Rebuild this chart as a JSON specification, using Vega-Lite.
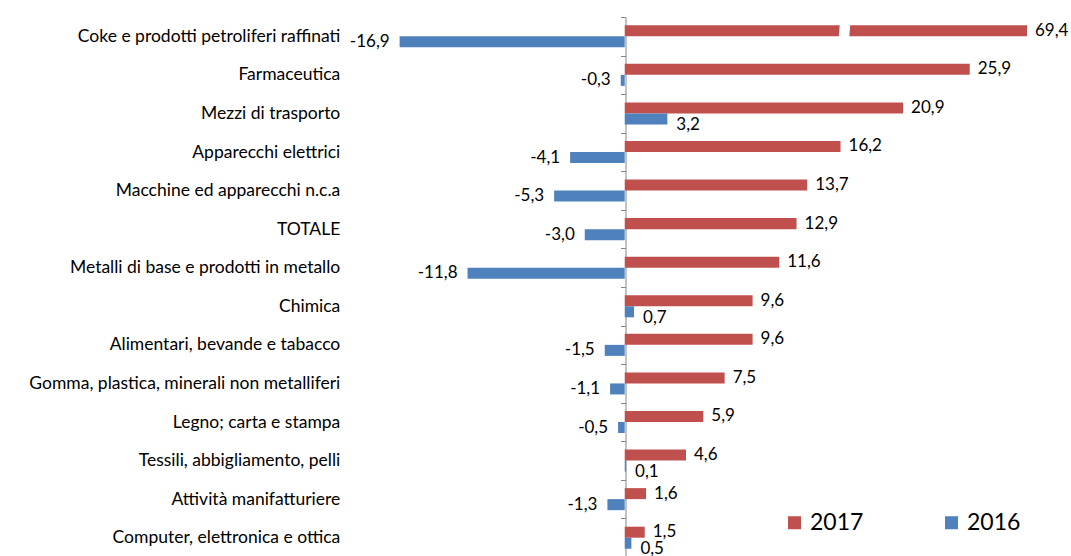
{
  "$schema": "https://vega.github.io/schema/vega-lite/v6.json",
  "width": 682,
  "height": 540,
  "autosize": {"type": "none"},
  "padding": {"left": 345, "top": 17, "right": 44, "bottom": 0},
  "config": {
    "view": {"stroke": null},
    "font": "Lato",
    "locale": {"number": {"decimal": ",", "thousands": ".", "grouping": [3], "currency": ["", " €"], "minus": "-"}}
  },
  "datasets": {
    "dati": [
      {"settore": "Coke e  prodotti petroliferi raffinati", "anno": "2017", "valore": 69.4},
      {"settore": "Coke e  prodotti petroliferi raffinati", "anno": "2016", "valore": -16.9},
      {"settore": "Farmaceutica", "anno": "2017", "valore": 25.9},
      {"settore": "Farmaceutica", "anno": "2016", "valore": -0.3},
      {"settore": "Mezzi di trasporto", "anno": "2017", "valore": 20.9},
      {"settore": "Mezzi di trasporto", "anno": "2016", "valore": 3.2},
      {"settore": "Apparecchi elettrici", "anno": "2017", "valore": 16.2},
      {"settore": "Apparecchi elettrici", "anno": "2016", "valore": -4.1},
      {"settore": "Macchine ed apparecchi  n.c.a", "anno": "2017", "valore": 13.7},
      {"settore": "Macchine ed apparecchi  n.c.a", "anno": "2016", "valore": -5.3},
      {"settore": "TOTALE", "anno": "2017", "valore": 12.9},
      {"settore": "TOTALE", "anno": "2016", "valore": -3.0},
      {"settore": "Metalli di base e prodotti in metallo", "anno": "2017", "valore": 11.6},
      {"settore": "Metalli di base e prodotti in metallo", "anno": "2016", "valore": -11.8},
      {"settore": "Chimica", "anno": "2017", "valore": 9.6},
      {"settore": "Chimica", "anno": "2016", "valore": 0.7},
      {"settore": "Alimentari, bevande e tabacco", "anno": "2017", "valore": 9.6},
      {"settore": "Alimentari, bevande e tabacco", "anno": "2016", "valore": -1.5},
      {"settore": "Gomma,  plastica,  minerali non metalliferi", "anno": "2017", "valore": 7.5},
      {"settore": "Gomma,  plastica,  minerali non metalliferi", "anno": "2016", "valore": -1.1},
      {"settore": "Legno; carta e stampa", "anno": "2017", "valore": 5.9},
      {"settore": "Legno; carta e stampa", "anno": "2016", "valore": -0.5},
      {"settore": "Tessili, abbigliamento, pelli", "anno": "2017", "valore": 4.6},
      {"settore": "Tessili, abbigliamento, pelli", "anno": "2016", "valore": 0.1},
      {"settore": "Attività manifatturiere", "anno": "2017", "valore": 1.6},
      {"settore": "Attività manifatturiere", "anno": "2016", "valore": -1.3},
      {"settore": "Computer,  elettronica e ottica", "anno": "2017", "valore": 1.5},
      {"settore": "Computer,  elettronica e ottica", "anno": "2016", "valore": 0.5}
    ],
    "interruzione": [
      {"settore": "Coke e  prodotti petroliferi raffinati", "anno": "2017", "valore": 16.5}
    ]
  },
  "data": {"name": "dati"},
  "encoding": {
    "y": {
      "field": "settore",
      "type": "nominal",
      "sort": null,
      "scale": {"paddingInner": 0, "paddingOuter": 0},
      "axis": {
        "title": null,
        "offset": -280.5,
        "tickBand": "extent",
        "tickSize": 5,
        "domainColor": "#868686",
        "tickColor": "#868686",
        "labelPadding": 280.7,
        "labelLimit": 400,
        "labelFontSize": 17.5,
        "labelColor": "#000000",
        "labelFont": "Lato"
      }
    },
    "yOffset": {
      "field": "anno",
      "type": "nominal",
      "sort": ["2017", "2016"],
      "scale": {"paddingInner": 0, "paddingOuter": 0.75}
    },
    "x": {
      "field": "valore",
      "type": "quantitative",
      "scale": {"domain": [-21, 30.2], "clamp": true, "nice": false},
      "axis": null
    }
  },
  "layer": [
    {
      "mark": {"type": "bar"},
      "encoding": {
        "color": {
          "field": "anno",
          "type": "nominal",
          "scale": {"domain": ["2017", "2016"], "range": ["#C0504D", "#4F81BD"]},
          "legend": {
            "orient": "none",
            "legendX": 438,
            "legendY": 494,
            "direction": "horizontal",
            "title": null,
            "symbolType": "square",
            "symbolSize": 169,
            "symbolStrokeWidth": 0,
            "labelFontSize": 23,
            "labelFont": "Lato",
            "labelColor": "#000000",
            "labelOffset": 4,
            "columnPadding": 76
          }
        }
      }
    },
    {
      "data": {"name": "interruzione"},
      "mark": {"type": "point", "shape": "M-0.95,-1.3 L1.15,-1.3 L0.95,1.3 L-1.15,1.3 Z", "filled": true, "color": "white", "opacity": 1, "size": 100, "strokeWidth": 0}
    },
    {
      "transform": [{"filter": "datum.anno == '2017'"}],
      "mark": {"type": "text", "align": "left", "baseline": "middle", "dx": 8, "fontSize": 17, "color": "#000000"},
      "encoding": {"text": {"field": "valore", "type": "quantitative", "format": ".1f"}}
    },
    {
      "transform": [{"filter": "datum.anno == '2016' && datum.valore < 0"}],
      "mark": {"type": "text", "align": "right", "baseline": "middle", "dx": -10, "fontSize": 17, "color": "#000000"},
      "encoding": {"text": {"field": "valore", "type": "quantitative", "format": ".1f"}}
    },
    {
      "transform": [{"filter": "datum.anno == '2016' && datum.valore >= 0"}],
      "mark": {"type": "text", "align": "left", "baseline": "middle", "dx": 9, "dy": 6, "fontSize": 17, "color": "#000000"},
      "encoding": {"text": {"field": "valore", "type": "quantitative", "format": ".1f"}}
    }
  ]
}
